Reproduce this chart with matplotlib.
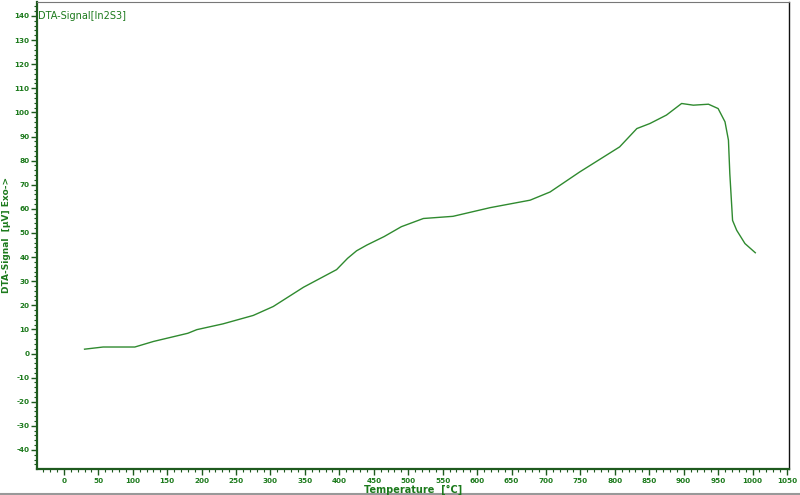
import matplotlib
matplotlib.use("Agg")
import matplotlib.pyplot as plt
from matplotlib.ticker import MultipleLocator

# DTA trace (temperature in degC, signal in uV)
temperature = [30, 57, 103, 130, 180, 193, 231, 275, 304, 348, 396, 412,
               425, 440, 465, 490, 522, 565, 619, 677, 706, 749, 807, 832,
               851, 875, 897, 914, 936, 950, 960, 965, 967, 971, 977, 989,
               1004]
signal = [1.8, 2.7, 2.7, 5.0, 8.4, 9.9, 12.3, 15.8, 19.5, 27.5, 34.8, 39.5,
          42.6, 45.0, 48.5, 52.6, 56.0, 56.9, 60.5, 63.6, 67.0, 75.3, 85.7,
          93.3, 95.4, 98.9, 103.7, 103.0, 103.4, 101.6, 96.1, 88.5, 74.6,
          55.2, 51.1, 45.6, 41.8]

TITLE = "DTA-Signal[In2S3]"
XLABEL = "Temperature  [°C]"
YLABEL = "DTA-Signal  [µV] Exo->"

LINE = "#2f8a2f"
TEXT = "#1c7a1c"
AXIS = "#1e5a1e"

plt.rcParams["axes.unicode_minus"] = False

fig = plt.figure(figsize=(8.0, 4.95), dpi=100)
ax = fig.add_axes([0.0463, 0.0525, 0.94, 0.9435])

ax.plot(temperature, signal, color=LINE, linewidth=1.0)

ax.set_xlim(-39, 1053)
ax.set_ylim(-47.9, 145.8)
ax.xaxis.set_major_locator(MultipleLocator(50))
ax.xaxis.set_minor_locator(MultipleLocator(10))
ax.yaxis.set_major_locator(MultipleLocator(10))
ax.yaxis.set_minor_locator(MultipleLocator(2))

ax.tick_params(axis="both", which="major", length=4, width=1.0, color=AXIS,
               labelsize=5.2, labelcolor=TEXT, pad=1.5)
ax.tick_params(axis="both", which="minor", length=2, width=0.8, color=AXIS)
ax.tick_params(axis="x", pad=2.5)
for lab in ax.get_xticklabels() + ax.get_yticklabels():
    lab.set_fontweight("bold")

ax.spines["left"].set_color(AXIS)
ax.spines["left"].set_linewidth(1.6)
ax.spines["bottom"].set_color(AXIS)
ax.spines["bottom"].set_linewidth(1.6)
ax.spines["right"].set_color("#111111")
ax.spines["right"].set_linewidth(1.0)
ax.spines["top"].set_color("#777777")
ax.spines["top"].set_linewidth(0.8)

ax.text(0.001, 140, TITLE, transform=ax.get_yaxis_transform(),
        ha="left", va="center", fontsize=7, color=TEXT)
fig.text(0.0085, 0.525, YLABEL, rotation=90, ha="center", va="center",
         fontsize=6.5, color=TEXT, fontweight="bold")
fig.text(0.517, 0.011, XLABEL, ha="center", va="center",
         fontsize=7, color=TEXT, fontweight="bold")

fig.add_artist(plt.Line2D([0, 1], [0.003, 0.003], transform=fig.transFigure,
                          color="#999999", linewidth=1.5))

fig.savefig("out.png", dpi=100, facecolor="white")
